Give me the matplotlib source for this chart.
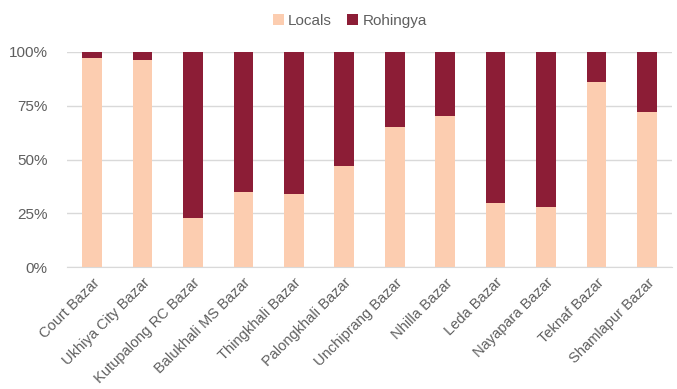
import numpy as np
import matplotlib.pyplot as plt
from matplotlib.ticker import PercentFormatter

markets = ['Court Bazar', 'Ukhiya City Bazar', 'Kutupalong RC Bazar', 'Balukhali MS Bazar',
           'Thingkhali Bazar', 'Palongkhali Bazar', 'Unchiprang Bazar', 'Nhilla Bazar',
           'Leda Bazar', 'Nayapara Bazar', 'Teknaf Bazar', 'Shamlapur Bazar']
locals_pct = [97, 96, 23, 35, 34, 47, 65, 70, 30, 28, 86, 72]
rohingya_pct = [100 - v for v in locals_pct]

c_locals = '#FCCDB0'
c_rohingya = '#8C1D36'
txt = '#5F5F5F'

plt.rcParams['font.family'] = ['Liberation Sans', 'DejaVu Sans']

fig = plt.figure(figsize=(6.77, 3.89), dpi=100)
ax = fig.add_axes([0.099, 0.3128, 0.8937, 0.5543])

x = np.arange(len(markets))
ax.bar(x, locals_pct, width=0.39, color=c_locals, label='Locals', zorder=3)
ax.bar(x, rohingya_pct, width=0.39, bottom=locals_pct, color=c_rohingya, label='Rohingya', zorder=3)

ax.set_xlim(-0.5, len(markets) - 0.5)
ax.set_ylim(0, 100)
ax.set_yticks([0, 25, 50, 75, 100])
ax.yaxis.set_major_formatter(PercentFormatter(decimals=0))
ax.grid(axis='y', color='#D9D9D9', lw=1, zorder=0)
for s in ['top', 'right', 'left']:
    ax.spines[s].set_visible(False)
ax.spines['bottom'].set_color('#D9D9D9')
ax.tick_params(axis='both', length=0, colors=txt, labelsize=10.5)
ax.tick_params(axis='y', pad=14, labelsize=11)
ax.tick_params(axis='x', pad=6)
ax.set_xticks(x)
ax.set_xticklabels(markets, rotation=45, ha='right', rotation_mode='anchor')

fig.legend(loc='upper center', bbox_to_anchor=(0.517, 1.0), ncol=2, frameon=False,
           fontsize=11, labelcolor=txt, handlelength=0.7, handleheight=0.7,
           handletextpad=0.3, columnspacing=1.0)

fig.savefig('out.png', dpi=100)
